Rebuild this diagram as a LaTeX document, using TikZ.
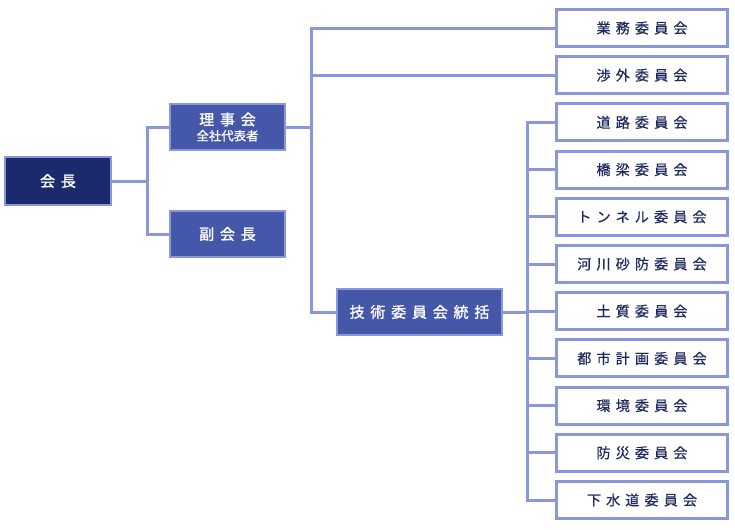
\documentclass[tikz,border=0pt]{standalone}
\usepackage{fontspec}
\newfontfamily\jp[LetterSpace=36,FakeBold=0.6]{Noto Sans CJK JP}
\newfontfamily\jpb[LetterSpace=38,FakeBold=1.4]{Noto Sans CJK JP}
\newfontfamily\jpsmall[FakeBold=1.2]{Noto Sans CJK JP}
\definecolor{navy}{HTML}{1B2A6C}
\definecolor{mid}{HTML}{4557A8}
\definecolor{lite}{HTML}{8898D8}
\definecolor{txt}{HTML}{1F2B5E}
\begin{document}
\begin{tikzpicture}[x=0.75pt,y=-0.75pt,
  conn/.style={draw=lite,line width=2.25pt},
  darkbox/.style={draw=lite,line width=1pt,fill=#1,text=white,align=center,inner sep=0pt,font=\jpb\fontsize{11.3pt}{13pt}\selectfont},
  wbox/.style={draw=lite,line width=2.25pt,fill=white,text=txt,inner sep=0pt,minimum width=128.25pt,minimum height=27.75pt,font=\jp\fontsize{10.6pt}{12pt}\selectfont}]
\useasboundingbox (0,0) rectangle (735,529);
% left nodes
\node[darkbox=navy,minimum width=79.5pt,minimum height=36pt] (kaicho) at (58,181) {会長};
\node[darkbox=mid,minimum width=86.25pt,minimum height=34.5pt] (riji) at (227.5,127) {理事会\\[-1.5pt]{\jpsmall\fontsize{9.3pt}{10pt}\selectfont 全社代表者}};
\node[darkbox=mid,minimum width=86.25pt,minimum height=34.5pt] (fuku) at (227.5,234) {副会長};
\node[darkbox=mid,minimum width=123.75pt,minimum height=34.5pt] (gijutsu) at (419.5,312) {技術委員会統括};
% right nodes
\node[wbox] (gyomu) at (642,28) {業務委員会};
\node[wbox] (shogai) at (642,75.2) {渉外委員会};
\node[wbox] (douro) at (642,122.4) {道路委員会};
\node[wbox] (kyoryo) at (642,169.6) {橋梁委員会};
\node[wbox] (tunnel) at (642,216.8) {トンネル委員会};
\node[wbox] (kasen) at (642,264) {河川砂防委員会};
\node[wbox] (doshitsu) at (642,311.2) {土質委員会};
\node[wbox] (toshi) at (642,358.4) {都市計画委員会};
\node[wbox] (kankyo) at (642,405.6) {環境委員会};
\node[wbox] (bousai) at (642,452.8) {防災委員会};
\node[wbox] (gesui) at (642,500) {下水道委員会};
% trunk coordinates
\coordinate (tl) at (147,0);
\coordinate (tm) at (311,0);
\coordinate (tr) at (527,0);
% connectors
\draw[conn] (kaicho.east) -- (tl |- kaicho.east);
\draw[conn] (riji.west) -| (tl |- fuku.west) -- (fuku.west);
\draw[conn] (riji.east) -- (tm |- riji.east);
\draw[conn] (gyomu.west) -| (tm |- gijutsu.west) -- (gijutsu.west);
\draw[conn] (shogai.west) -- (tm |- shogai.west);
\draw[conn] (gijutsu.east) -- (tr |- gijutsu.east);
\draw[conn] (douro.west) -| (tr |- gesui.west) -- (gesui.west);
\foreach \n in {kyoryo,tunnel,kasen,doshitsu,toshi,kankyo,bousai}
  \draw[conn] (\n.west) -- (tr |- \n.west);
\end{tikzpicture}
\end{document}
